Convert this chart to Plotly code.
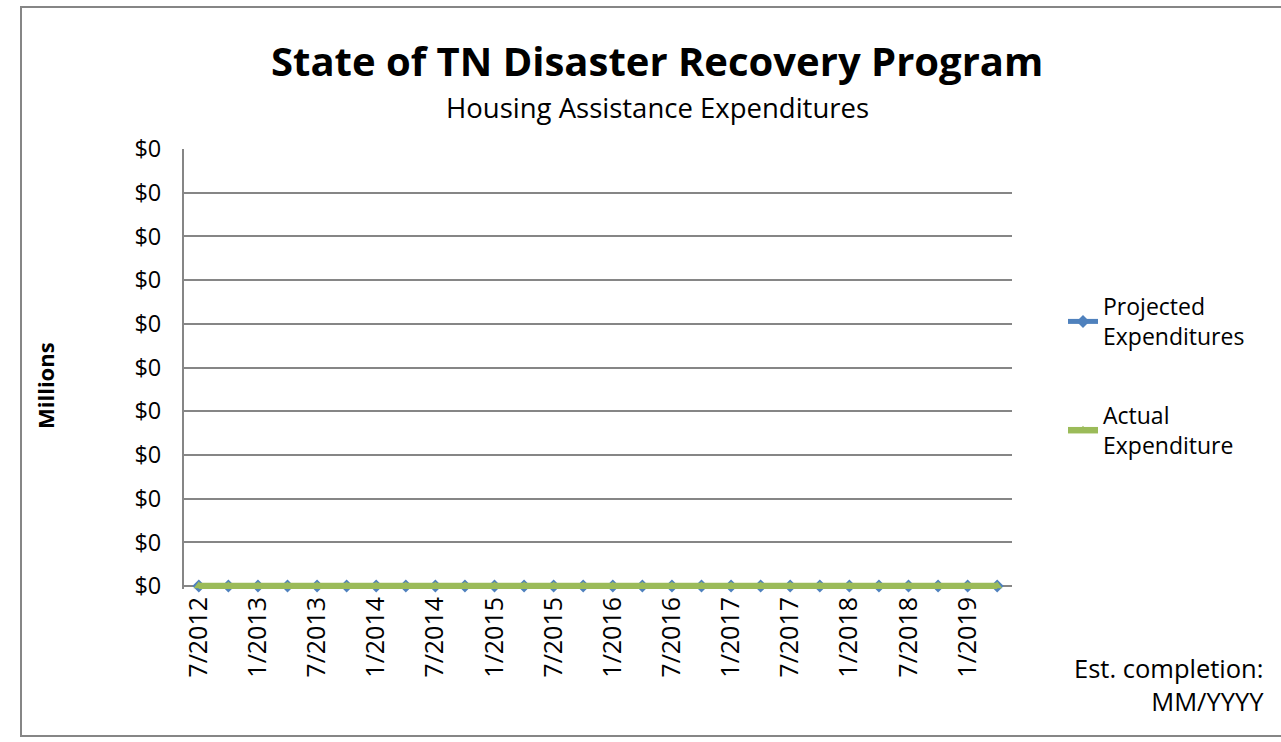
import plotly.graph_objects as go

categories = []
for yr in range(2012, 2020):
    for mo in (1, 4, 7, 10):
        if (yr == 2012 and mo < 7) or (yr == 2019 and mo > 4):
            continue
        categories.append(f"{mo}/{yr}")

projected = [0] * len(categories)
actual = [0] * len(categories)
shown_labels = categories[::2]
y_ticks = [i / 10 for i in range(11)]
y_tick_labels = ["$0"] * len(y_ticks)

FONT = "Open Sans"
W, H = 1281, 742
L, R, T, B = 184, 269, 149, 153
PW, PH = W - L - R, H - T - B
PAD = 3  # px between zero line and bottom of plot area (keeps thick lines unclipped)
Y_MIN = -PAD / (PH - PAD)

def px(x):
    return (x - L) / PW

def py(y):
    return 1 - (y - T) / PH

fig = go.Figure()
fig.add_trace(go.Scatter(
    x=categories, y=projected, mode="lines+markers",
    name="Projected<br>Expenditures", legendgroup="a", cliponaxis=False,
    line=dict(color="#4F81BD", width=5),
    marker=dict(symbol="diamond", size=10, color="#4F81BD"),
))
fig.add_trace(go.Scatter(
    x=categories, y=actual, mode="lines+markers",
    name="Actual<br>Expenditure", legendgroup="b", cliponaxis=False,
    line=dict(color="#9BBB59", width=6.5),
    marker=dict(symbol="triangle-up", size=9, color="#9BBB59"),
))

fig.update_layout(
    width=W, height=H,
    margin=dict(l=L, r=R, t=T, b=B),
    paper_bgcolor="white", plot_bgcolor="white",
    font=dict(family=FONT, color="black"),
    showlegend=True,
    legend=dict(x=px(1063), y=py(285), xanchor="left", yanchor="top",
                font=dict(size=23, family=FONT, color="black"), tracegroupgap=46,
                traceorder="grouped", bgcolor="rgba(0,0,0,0)"),
    xaxis=dict(type="category", tickmode="array", tickvals=shown_labels,
               ticktext=shown_labels, tickangle=-90,
               tickfont=dict(size=25, family=FONT), showgrid=False,
               showline=False, ticks="", ticklabelstandoff=2,
               layer="below traces",
               range=[-0.5, len(categories) - 0.5]),
    yaxis=dict(range=[Y_MIN, 1], tickvals=y_ticks, ticktext=y_tick_labels,
               tickfont=dict(size=23.5, family=FONT), showgrid=True,
               gridcolor="#868686", gridwidth=1.5,
               zeroline=True, zerolinecolor="#868686", zerolinewidth=2,
               showline=True, linecolor="#868686", linewidth=2,
               ticks="", ticklabelstandoff=16, layer="below traces"),
)

fig.add_annotation(text="<b>State of TN Disaster Recovery Program</b>",
                   xref="paper", yref="paper", x=px(657), y=py(60),
                   showarrow=False, font=dict(size=40, family=FONT),
                   xanchor="center", yanchor="middle")
fig.add_annotation(text="Housing Assistance Expenditures",
                   xref="paper", yref="paper", x=px(657), y=py(107),
                   showarrow=False, font=dict(size=27.5, family=FONT),
                   xanchor="center", yanchor="middle")
fig.add_annotation(text="<b>Millions</b>", textangle=-90,
                   xref="paper", yref="paper", x=px(45), y=py(386),
                   showarrow=False, font=dict(size=22, family=FONT),
                   xanchor="center", yanchor="middle")
fig.add_annotation(text="Est. completion:<br>MM/YYYY",
                   xref="paper", yref="paper", x=px(1266), y=py(684),
                   showarrow=False, font=dict(size=25.5, family=FONT),
                   xanchor="right", yanchor="middle", align="right")
fig.add_shape(type="rect", xref="paper", yref="paper",
              x0=px(21), x1=px(1295), y0=py(736), y1=py(7),
              line=dict(color="#868686", width=2), fillcolor="rgba(0,0,0,0)")

fig.write_html("out.html", config={"displayModeBar": False},
               post_script="document.body.style.margin='0';")
